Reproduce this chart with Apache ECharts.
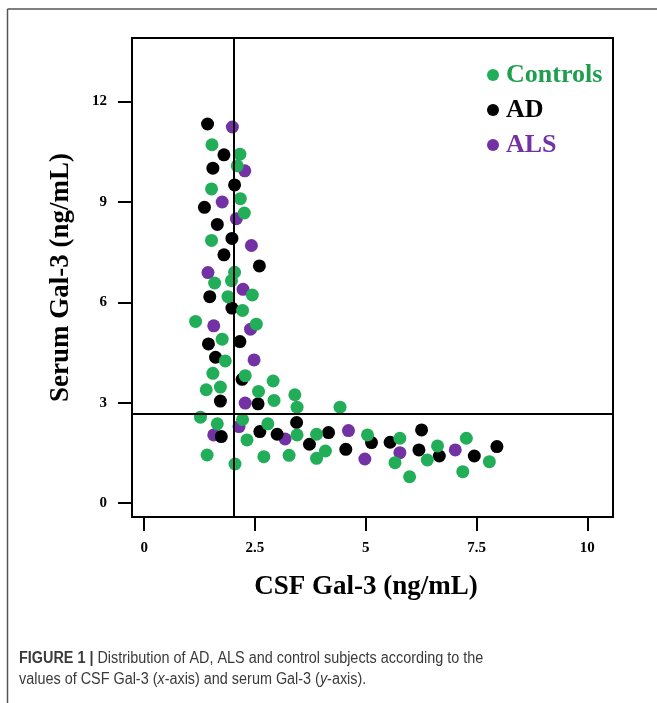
<!DOCTYPE html>
<html>
<head>
<meta charset="utf-8">
<script src="https://cdn.jsdelivr.net/npm/echarts@6/dist/echarts.min.js"></script>
<style>
html,body{margin:0;padding:0;background:#fff;}
#chart{width:657px;height:703px;}
</style>
</head>
<body>
<div id="chart"></div>
<script>
// ---- data ----
var seriesNames = ['Controls', 'AD', 'ALS'];
var controlsX = [1.53,2.16,2.10,1.52,2.17,2.26,1.52,2.04,1.59,1.97,1.89,2.44,2.22,1.16,2.53,1.76,1.83,1.55,2.28,1.40,1.72,2.58,2.91,2.93,3.40,3.45,4.42,1.27,1.65,2.22,2.79,2.32,3.45,3.89,1.42,2.05,2.70,3.27,3.89,4.09,5.04,5.77,5.66,5.99,6.39,6.62,7.27,7.19,7.79];
var controlsY = [10.71,10.43,10.08,9.39,9.10,8.67,7.85,6.90,6.58,6.65,6.17,6.22,5.76,5.43,5.35,4.90,4.25,3.88,3.81,3.39,3.47,3.34,3.65,3.07,3.24,2.87,2.87,2.57,2.37,2.50,2.37,1.89,2.04,2.06,1.44,1.17,1.39,1.43,1.34,1.56,2.04,1.94,1.21,0.79,1.29,1.71,1.94,0.94,1.24];
var adX = [1.43,1.80,1.55,2.04,1.36,1.65,1.98,1.80,2.60,1.48,1.98,2.16,1.45,1.61,2.21,1.72,2.57,1.74,2.61,3.00,3.44,3.73,4.16,4.55,5.13,5.55,6.26,6.20,6.66,7.45,7.96];
var adY = [11.33,10.41,10.01,9.51,8.84,8.33,7.91,7.42,7.09,6.17,5.83,4.83,4.76,4.36,3.70,3.05,2.97,1.99,2.14,2.06,2.41,1.76,2.11,1.61,1.81,1.82,2.19,1.59,1.41,1.41,1.69];
var alsX = [1.99,2.27,1.76,2.08,2.42,1.44,2.23,1.57,2.40,2.48,2.28,2.14,1.57,3.18,4.61,4.98,5.77,7.02];
var alsY = [11.24,9.93,9.00,8.50,7.70,6.89,6.39,5.30,5.20,4.28,2.99,2.29,2.04,1.92,2.17,1.32,1.51,1.59];
var xTicks = [0, 2.5, 5, 7.5, 10];
var yTicks = [0, 3, 6, 9, 12];
var csfCutoff = 2.02;
var serumCutoff = 2.66;
var xTitle = 'CSF Gal-3 (ng/mL)';
var yTitle = 'Serum Gal-3 (ng/mL)';

function zip(xs, ys) { return xs.map(function (v, i) { return [v, ys[i]]; }); }

var GREEN = '#22ad58', BLACK = '#000000', PURPLE = '#7232a3';
var SERIF = "'Liberation Serif', 'Times New Roman', serif";
var SANS = "'Liberation Sans', Arial, sans-serif";

var chart = echarts.init(document.getElementById('chart'), null, {renderer: 'canvas'});

var option = {
  backgroundColor: '#ffffff',
  animation: false,
  grid: {
    left: 132, right: 44, top: 38, bottom: 186,
    show: true, borderColor: '#000', borderWidth: 2, backgroundColor: 'transparent'
  },
  xAxis: {
    type: 'value', min: -0.275, max: 10.58,
    axisLine: {show: false, onZero: false},
    splitLine: {show: false},
    axisTick: {show: true, inside: false, length: 14, customValues: xTicks, lineStyle: {color: '#000', width: 2}},
    axisLabel: {customValues: xTicks, margin: 24, color: '#000', fontFamily: SERIF, fontWeight: 'bold', fontSize: 15,
      formatter: function (v) { return String(v); }},
    name: xTitle, nameLocation: 'middle', nameGap: 57,
    nameTextStyle: {fontFamily: SERIF, fontWeight: 'bold', fontSize: 27, color: '#000', padding: [0, 13, 0, 0]}
  },
  yAxis: {
    type: 'value', min: -0.413, max: 13.9,
    axisLine: {show: false, onZero: false},
    splitLine: {show: false},
    axisTick: {show: true, inside: false, length: 14, customValues: yTicks, lineStyle: {color: '#000', width: 2}},
    axisLabel: {customValues: yTicks, margin: 25, color: '#000', fontFamily: SERIF, fontWeight: 'bold', fontSize: 15},
    name: yTitle, nameLocation: 'middle', nameGap: 57,
    nameTextStyle: {fontFamily: SERIF, fontWeight: 'bold', fontSize: 27, color: '#000'}
  },
  legend: {
    orient: 'vertical', left: 482, top: 57,
    icon: 'circle', itemWidth: 12, itemHeight: 12, itemGap: 9,
    selectedMode: false,
    textStyle: {fontFamily: SERIF, fontWeight: 'bold', fontSize: 26, lineHeight: 26, padding: [0, 0, 0, 2]},
    data: [
      {name: 'Controls', textStyle: {color: '#1e9f50'}},
      {name: 'AD', textStyle: {color: '#000'}},
      {name: 'ALS', textStyle: {color: PURPLE}}
    ]
  },
  series: [
    {
      name: seriesNames[2], type: 'scatter', symbol: 'circle', symbolSize: 13,
      itemStyle: {color: PURPLE, opacity: 1}, data: zip(alsX, alsY), z: 3
    },
    {
      name: seriesNames[1], type: 'scatter', symbol: 'circle', symbolSize: 13,
      itemStyle: {color: BLACK, opacity: 1}, data: zip(adX, adY), z: 3
    },
    {
      name: seriesNames[0], type: 'scatter', symbol: 'circle', symbolSize: 13,
      itemStyle: {color: GREEN, opacity: 1}, data: zip(controlsX, controlsY), z: 3,
      markLine: {
        silent: true, symbol: ['none', 'none'], animation: false,
        label: {show: false},
        lineStyle: {color: '#000', width: 2, type: 'solid'},
        data: [{xAxis: csfCutoff}, {yAxis: serumCutoff}]
      }
    }
  ],
  graphic: [
    {type: 'line', shape: {x1: 7.5, y1: 9, x2: 657, y2: 9}, style: {stroke: '#555', lineWidth: 1.5}, silent: true},
    {type: 'line', shape: {x1: 7.5, y1: 9, x2: 7.5, y2: 703}, style: {stroke: '#555', lineWidth: 1.5}, silent: true},
    {
      type: 'text', x: 19, y: 648, scaleX: 0.9, silent: true,
      style: {
        text: '{b|FIGURE 1 |} Distribution of AD, ALS and control subjects according to the\nvalues of CSF Gal-3 ({i|x}-axis) and serum Gal-3 ({i|y}-axis).',
        fontFamily: SANS, fontSize: 16, lineHeight: 21, fill: '#3a3a3a',
        rich: {
          b: {fontFamily: SANS, fontSize: 16, fontWeight: 'bold', fill: '#3a3a3a', lineHeight: 21},
          i: {fontFamily: SANS, fontSize: 16, fontStyle: 'italic', fill: '#3a3a3a', lineHeight: 21}
        }
      }
    }
  ]
};
chart.setOption(option);
</script>
</body>
</html>
